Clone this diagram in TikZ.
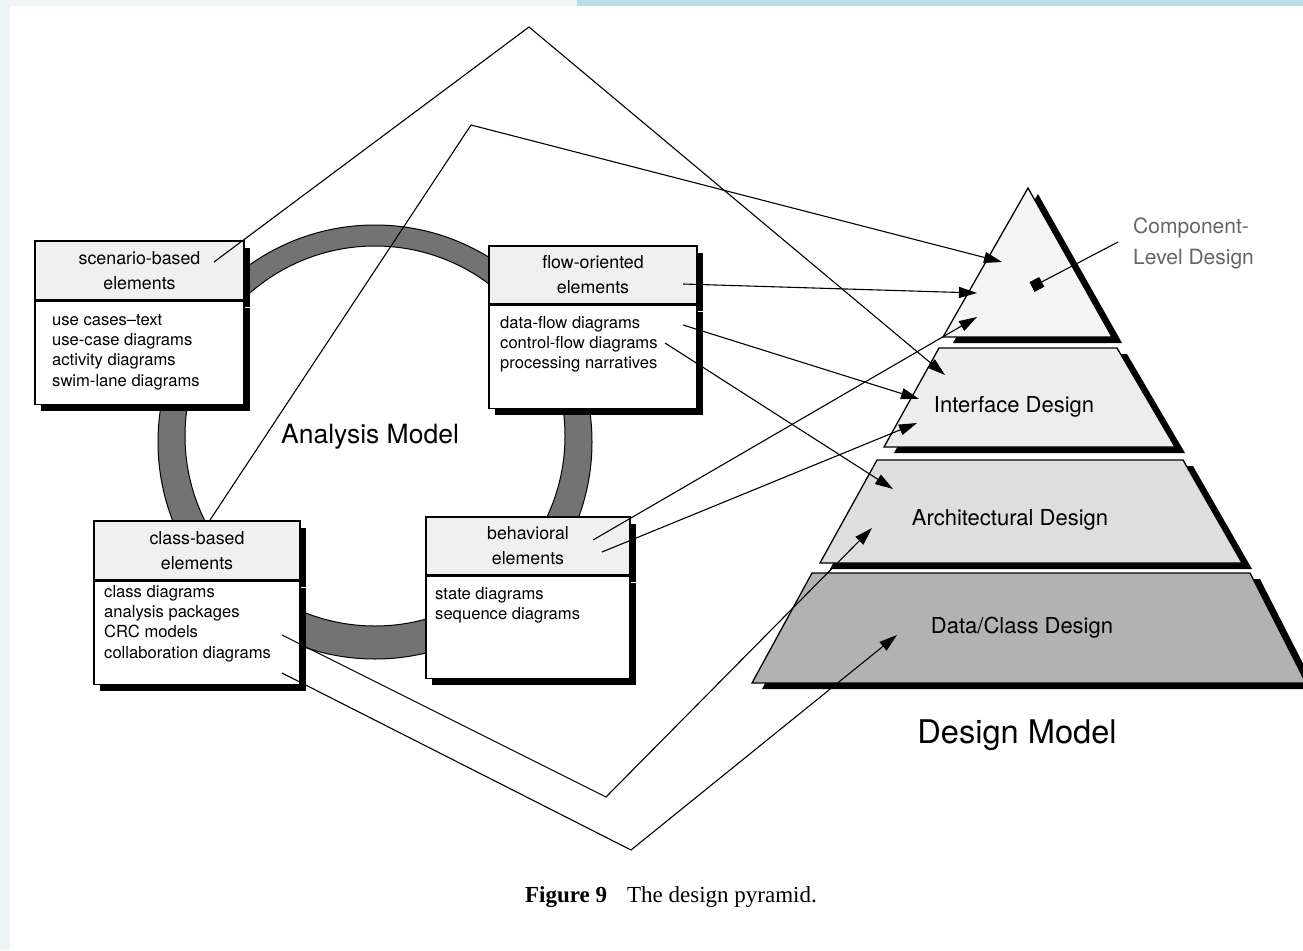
\documentclass[tikz,border=0pt]{standalone}
\usepackage{fontspec}
\setmainfont{TeX Gyre Heros}
\newfontfamily\capfont{Liberation Serif}
\usetikzlibrary{arrows.meta,positioning,shadows}
\definecolor{bgside}{HTML}{EDF5F7}
\definecolor{bgtop}{HTML}{BCDFE3}
\definecolor{hdrgray}{gray}{0.94}
\newcommand\hdrfont{\fontsize{17.8}{25}\selectfont}
\newcommand\itemfont{\fontsize{16.6}{20.3}\selectfont}
\newcommand\slab[2]{\fill[black,shift={(10,6)}] #2 -- cycle; \filldraw[fill=#1,line width=1.3pt] #2 -- cycle;}
\tikzset{
  hdr/.style={draw, line width=1.2pt, fill=hdrgray, inner sep=0pt, align=center, font=\hdrfont,
    drop shadow={shadow xshift=6pt,shadow yshift=-7pt,fill=black,opacity=1}},
  bdy/.style={draw, line width=1.2pt, fill=white, inner sep=0pt,
    drop shadow={shadow xshift=6pt,shadow yshift=-7pt,fill=black,opacity=1}},
  items/.style={anchor=north west, inner sep=0pt, align=left, font=\itemfont},
  conn/.style={line width=1.1pt},
  >={Triangle[length=18pt,width=11pt]}
}

\begin{document}
\begin{tikzpicture}[x=1pt,y=-1pt]
\useasboundingbox (0,0) rectangle (1303,950);
\clip (0,0) rectangle (1303,950);
% page margins
\fill[bgside] (0,0) rectangle (1303,950);
\fill[white] (10,6) rectangle (1303,950);
\fill[bgtop] (577,0) rectangle (1303,6);

% the ring of the analysis model
\filldraw[fill=black!55, draw=black, line width=1pt, even odd rule]
  (375,442) circle[radius=217pt] (375,436) circle[radius=190pt];
\node[font=\fontsize{26.5}{30}\selectfont] (amodel) at (370,437) {Analysis Model};

% analysis elements
\node[hdr, minimum width=209pt, minimum height=59pt] (scen) at (139.5,270.5) {scenario-based\\elements};
\node[bdy, minimum width=209pt, minimum height=103pt, below=0pt of scen] (scenb) {};
\node[items] (scenl) at (52,314) {use cases--text\\use-case diagrams\\activity diagrams\\swim-lane diagrams};

\node[hdr, minimum width=208pt, minimum height=58pt] (flow) at (593,275) {flow-oriented\\elements};
\node[bdy, minimum width=208pt, minimum height=103pt, below=0pt of flow] (flowb) {};
\node[items] (flowl) at (500,316) {data-flow diagrams\\control-flow diagrams\\processing narratives};

\node[hdr, minimum width=206pt, minimum height=59pt] (class) at (197,550.5) {class-based\\elements};
\node[bdy, minimum width=206pt, minimum height=103pt, below=0pt of class] (classb) {};
\node[items] (classl) at (104,585) {class diagrams\\analysis packages\\CRC models\\collaboration diagrams};

\node[hdr, minimum width=204pt, minimum height=58pt] (behav) at (528,546) {behavioral\\elements};
\node[bdy, minimum width=204pt, minimum height=102pt, below=0pt of behav] (behavb) {};
\node[items] (behavl) at (435,587) {state diagrams\\sequence diagrams};

% design pyramid
\slab{black!4}{(1028,188) -- (1112,337) -- (943,337)}
\slab{black!7}{(939,348) -- (1117,348) -- (1175,447) -- (884,447)}
\slab{black!13}{(877,460) -- (1183,460) -- (1242,563) -- (820,563)}
\slab{black!30}{(812,573) -- (1250,573) -- (1306,683) -- (752,683)}

\node[font=\fontsize{22}{24}\selectfont] (iface) at (1014,407) {Interface Design};
\node[font=\fontsize{22}{24}\selectfont] (arch) at (1010,520) {Architectural Design};
\node[font=\fontsize{22}{24}\selectfont] (dclass) at (1022,628) {Data/Class Design};
\node[font=\fontsize{21}{31}\selectfont, text=black!60, align=left, anchor=west, inner sep=0pt] (comp) at (1133,243) {Component-\\Level Design};
\node[font=\fontsize{32.6}{36}\selectfont] (dmodel) at (1017,735) {Design Model};
\node[font=\capfont\fontsize{23}{25}\selectfont] (fig) at (671,897) {\textbf{Figure 9}\hspace{20pt}The design pyramid.};

% bends and ends of the connectors
\coordinate (top) at (529,27);
\coordinate (bendA) at (471,125);
\coordinate (bendB) at (606,797);
\coordinate (bendC) at (631,850);
\coordinate (scenS) at (214,262);
\coordinate (flowS) at (683,284);
\coordinate (flowS2) at (683,325);
\coordinate (flowS3) at (665,343);
\coordinate (classS) at (210,520);
\coordinate (classS2) at (282,635);
\coordinate (classS3) at (282,673);
\coordinate (behavS) at (593,540);
\coordinate (behavS2) at (602,552);
\coordinate (compS) at (1118,242);
\coordinate (compT1) at (1002,262);
\coordinate (compT2) at (977,293);
\coordinate (compT3) at (977,317);
\coordinate (compT4) at (1032,287);
\coordinate (ifT1) at (945,375);
\coordinate (ifT2) at (919,399);
\coordinate (ifT3) at (917,423);
\coordinate (archT1) at (893,489);
\coordinate (archT2) at (872,528);
\coordinate (dataT) at (897,635);

\draw[conn,->] (scenS) -- (top) -- (ifT1);
\draw[conn,->] (classS) -- (bendA) -- (compT1);
\draw[conn,->] (classS2) -- (bendB) -- (archT2);
\draw[conn,->] (classS3) -- (bendC) -- (dataT);
\path[conn,->]
(flowS) edge (compT2)
(flowS2) edge (ifT2)
(flowS3) edge (archT1)
(behavS) edge (compT3)
(behavS2) edge (ifT3);
\draw[conn,-{Square[length=11pt,width=11pt]}] (compS) -- (compT4);
\end{tikzpicture}
\end{document}
